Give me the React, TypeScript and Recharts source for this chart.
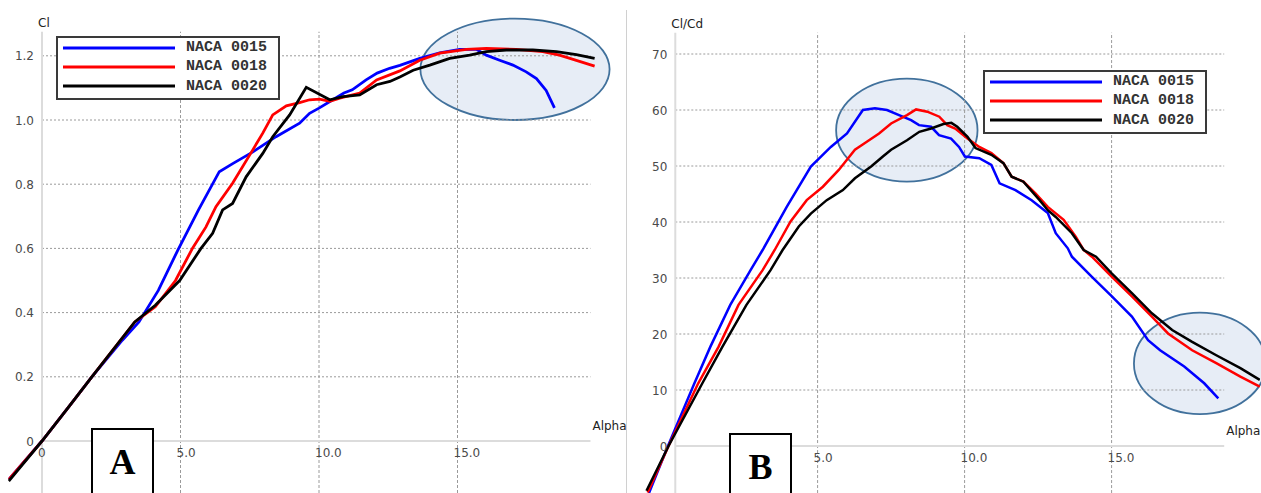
import React from 'react';
import {
  LineChart,
  Line,
  XAxis,
  YAxis,
  ReferenceLine,
  ReferenceDot,
  ReferenceArea,
  Legend,
} from 'recharts';

// ---- panel A : Cl vs Alpha ----
const A_ALPHA_0015 = [-1.2, 0, 1, 1.8, 2.9, 3.5, 4.2, 4.9, 5.65, 6.4, 6.9, 7.6, 8.45, 9.3, 9.66, 10.0, 10.5, 10.9, 11.2, 11.7, 12.1, 12.55, 12.92, 13.64, 14.36, 15.08, 15.68, 16.04, 16.52, 17.0, 17.48, 17.85, 18.2, 18.5];
const A_CL_0015 = [-0.12, 0, 0.11, 0.2, 0.314, 0.371, 0.469, 0.594, 0.72, 0.839, 0.865, 0.9, 0.948, 0.99, 1.021, 1.037, 1.063, 1.084, 1.094, 1.125, 1.146, 1.161, 1.17, 1.192, 1.209, 1.22, 1.22, 1.202, 1.186, 1.171, 1.15, 1.129, 1.092, 1.038];

const A_ALPHA_0018 = [-1.2, 0, 1, 1.8, 3.35, 4.09, 4.82, 5.43, 5.92, 6.28, 6.88, 7.61, 7.97, 8.33, 8.82, 9.3, 9.66, 10.02, 10.39, 10.75, 11.47, 12.08, 12.92, 13.64, 14.36, 15.32, 16.04, 17.12, 18.08, 18.68, 19.29, 19.95];
const A_CL_0018 = [-0.12, 0, 0.11, 0.2, 0.371, 0.418, 0.5, 0.6, 0.667, 0.73, 0.803, 0.907, 0.959, 1.016, 1.044, 1.054, 1.063, 1.065, 1.058, 1.068, 1.084, 1.125, 1.153, 1.186, 1.208, 1.22, 1.223, 1.22, 1.213, 1.202, 1.186, 1.168];

const A_ALPHA_0020 = [-1.2, 0, 1, 1.8, 3.35, 4.09, 4.97, 5.74, 6.16, 6.52, 6.88, 7.37, 7.97, 8.33, 8.94, 9.54, 10.39, 10.87, 11.47, 12.08, 12.56, 12.92, 13.4, 14.0, 14.72, 15.44, 16.04, 16.76, 17.72, 18.57, 19.29, 19.95];
const A_CL_0020 = [-0.125, 0, 0.11, 0.2, 0.371, 0.423, 0.5, 0.6, 0.647, 0.72, 0.74, 0.823, 0.896, 0.948, 1.016, 1.102, 1.063, 1.073, 1.078, 1.11, 1.12, 1.134, 1.155, 1.171, 1.192, 1.202, 1.213, 1.218, 1.218, 1.213, 1.204, 1.192];

const A_X_TICKS = [0, 5, 10, 15];
const A_X_LABELS = ['0', '5.0', '10.0', '15.0'];
const A_Y_TICKS = [0, 0.2, 0.4, 0.6, 0.8, 1.0, 1.2];
const A_Y_LABELS = ['0', '0.2', '0.4', '0.6', '0.8', '1.0', '1.2'];

// ---- panel B : Cl/Cd vs Alpha ----
const B_ALPHA_0015 = [-0.75, -0.09, 0.81, 1.35, 2.03, 2.72, 3.13, 3.95, 4.77, 5.45, 6.0, 6.54, 6.95, 7.36, 7.77, 8.18, 8.45, 8.86, 9.13, 9.54, 9.81, 10.01, 10.5, 10.91, 11.19, 11.73, 12.28, 12.83, 13.1, 13.51, 13.65, 14.33, 15.01, 15.69, 16.24, 16.65, 17.47, 18.15, 18.63];
const B_CLCD_0015 = [-8.6, 0, 11.2, 17.7, 25.2, 31.4, 35.0, 42.7, 49.9, 53.4, 55.8, 60.0, 60.3, 60.0, 59.1, 58.2, 57.3, 57.0, 55.5, 54.9, 53.4, 51.7, 51.4, 50.2, 46.9, 45.7, 43.9, 41.6, 38.0, 35.3, 33.8, 30.2, 26.7, 23.1, 18.9, 17.1, 14.2, 11.2, 8.5];

const B_ALPHA_0018 = [-0.78, -0.07, 0.94, 1.63, 2.31, 3.13, 3.54, 4.08, 4.63, 5.18, 5.72, 6.27, 6.61, 7.09, 7.5, 8.04, 8.35, 8.73, 9.14, 9.41, 9.68, 10.1, 10.5, 10.91, 11.32, 11.6, 12.0, 12.41, 12.83, 13.37, 13.78, 14.05, 14.33, 15.01, 15.69, 16.37, 16.92, 17.74, 18.56, 19.38, 20.04];
const B_CLCD_0018 = [-8.3, 0, 11.2, 17.7, 25.2, 31.4, 35.0, 40.1, 43.9, 46.3, 49.3, 52.9, 54.1, 55.8, 57.6, 59.1, 60.1, 59.7, 58.8, 57.3, 56.7, 54.9, 53.4, 52.3, 50.5, 48.1, 47.2, 45.1, 42.7, 40.4, 37.4, 35.0, 33.8, 30.2, 26.7, 23.1, 20.1, 17.1, 14.8, 12.4, 10.6];

const B_ALPHA_0020 = [-0.82, -0.07, 1.08, 1.76, 2.58, 3.4, 3.81, 4.36, 4.77, 5.31, 5.86, 6.27, 6.82, 7.22, 7.5, 8.04, 8.46, 8.86, 9.28, 9.55, 9.75, 10.1, 10.37, 10.91, 11.32, 11.6, 12.0, 12.55, 12.83, 13.1, 13.65, 14.05, 14.47, 15.01, 15.69, 16.37, 17.06, 17.74, 18.56, 19.38, 20.04];
const B_CLCD_0020 = [-8.0, 0, 11.2, 17.7, 25.2, 31.4, 35.0, 39.2, 41.5, 43.9, 45.7, 47.8, 49.9, 51.7, 52.9, 54.6, 56.1, 56.7, 57.5, 57.7, 57.0, 55.2, 53.2, 52.0, 50.5, 48.1, 47.2, 43.9, 42.1, 40.9, 38.0, 35.0, 33.8, 30.8, 27.3, 23.7, 20.7, 18.6, 16.2, 13.9, 11.8];

const B_X_TICKS = [5, 10, 15];
const B_X_LABELS = ['5.0', '10.0', '15.0'];
const B_Y_TICKS = [0, 10, 20, 30, 40, 50, 60, 70];
const B_Y_LABELS = ['0', '10', '20', '30', '40', '50', '60', '70'];

const SERIES_NAMES = ['NACA 0015', 'NACA 0018', 'NACA 0020'];
const COLORS = ['#0000ff', '#ff0000', '#000000'];

const zip = (a: number[], v: number[]) => a.map((x, i) => ({ a: x, v: v[i] }));

const GRID = '#9a9a9a';
const AXIS = '#dcdcdc';
const TICK_FONT = '"DejaVu Sans", sans-serif';

interface Ellipse { x1: number; x2: number; y1: number; y2: number }

interface PanelCfg {
  left: number;
  width: number;
  height: number;
  x0px: number;   // page x of alpha = 0
  pxX: number;    // px per degree
  y0px: number;   // page y of value = 0
  pxY: number;    // px per unit
  xDomain: [number, number];
  yDomain: [number, number];
  axisAt: number;
  gridEnd: number;
  xTicks: number[];
  xLabels: string[];
  yTicks: number[];
  yLabels: string[];
  yTitle: string;
  series: { a: number; v: number }[][];
  ellipses: Ellipse[];
  legendPos: { left: number; top: number };
  strokeWidth: number;
}

const EllipseShape = (p: any) => (
  <ellipse
    cx={p.x + p.width / 2}
    cy={p.y + p.height / 2}
    rx={Math.abs(p.width / 2)}
    ry={Math.abs(p.height / 2)}
    fill="#c5d5ea"
    fillOpacity={0.42}
    stroke="#41719c"
    strokeWidth={1.8}
  />
);

const renderLegend = (props: any) => (
  <div style={{ border: '2px solid #3a3a3a', background: '#fff', padding: '0 11px 2px 5px' }}>
    {(props.payload || []).map((e: any) => (
      <div key={e.value} style={{ display: 'flex', alignItems: 'center', height: 19.3 }}>
        <svg width={112} height={4} style={{ display: 'block' }}>
          <line x1={0} y1={2} x2={112} y2={2} stroke={e.color} strokeWidth={3} />
        </svg>
        <span
          style={{
            marginLeft: 11,
            fontFamily: '"Liberation Mono", "DejaVu Sans Mono", monospace',
            fontWeight: 'bold',
            fontSize: 15,
            color: '#333',
            lineHeight: '19px',
          }}
        >
          {e.value}
        </span>
      </div>
    ))}
  </div>
);

function Panel({ cfg }: { cfg: PanelCfg }) {
  const mLeft = cfg.x0px + cfg.xDomain[0] * cfg.pxX - cfg.left;
  const plotW = (cfg.xDomain[1] - cfg.xDomain[0]) * cfg.pxX;
  const mTop = cfg.y0px - cfg.yDomain[1] * cfg.pxY;
  const plotH = (cfg.yDomain[1] - cfg.yDomain[0]) * cfg.pxY;
  const margin = {
    left: mLeft,
    right: cfg.width - mLeft - plotW,
    top: mTop,
    bottom: cfg.height - mTop - plotH,
  };

  return (
    <div style={{ position: 'absolute', left: cfg.left, top: 0 }}>
      <LineChart width={cfg.width} height={cfg.height} margin={margin}>
        <XAxis type="number" dataKey="a" domain={cfg.xDomain} allowDataOverflow hide />
        <YAxis type="number" dataKey="v" domain={cfg.yDomain} allowDataOverflow hide />

        {/* vertical dotted grid */}
        {cfg.xTicks.filter((t) => t !== 0).map((t) => (
          <ReferenceLine key={`vx${t}`} x={t} stroke={GRID} strokeDasharray="3 2" strokeWidth={1} ifOverflow="visible" />
        ))}
        {/* horizontal dotted grid, from the axis to the grid end */}
        {cfg.yTicks.filter((t) => t !== 0).map((t) => (
          <ReferenceLine
            key={`hy${t}`}
            segment={[{ x: cfg.axisAt, y: t }, { x: cfg.gridEnd, y: t }]}
            stroke={GRID}
            strokeDasharray="2 2"
            strokeWidth={1}
            ifOverflow="visible"
          />
        ))}
        {/* axes */}
        <ReferenceLine x={cfg.axisAt} stroke={AXIS} strokeWidth={2} ifOverflow="visible" />
        <ReferenceLine
          segment={[{ x: cfg.axisAt, y: 0 }, { x: cfg.gridEnd, y: 0 }]}
          stroke={AXIS}
          strokeWidth={2}
          ifOverflow="visible"
        />

        {cfg.ellipses.map((e, i) => (
          <ReferenceArea
            key={`el${i}`}
            x1={e.x1}
            x2={e.x2}
            y1={e.y1}
            y2={e.y2}
            ifOverflow="visible"
            shape={EllipseShape}
          />
        ))}

        {cfg.series.map((d, i) => (
          <Line
            key={SERIES_NAMES[i]}
            data={d}
            dataKey="v"
            name={SERIES_NAMES[i]}
            type="linear"
            stroke={COLORS[i]}
            strokeWidth={cfg.strokeWidth}
            dot={false}
            activeDot={false}
            isAnimationActive={false}
          />
        ))}

        {/* tick labels */}
        {cfg.xTicks.map((t, i) => (
          <ReferenceDot
            key={`xl${t}`}
            x={t}
            y={0}
            r={0}
            ifOverflow="visible"
            shape={(p: any) => (
              <text x={p.cx - 4} y={p.cy + 16} fontFamily={TICK_FONT} fontSize={12} fill="#4a4a4a">
                {cfg.xLabels[i]}
              </text>
            )}
          />
        ))}
        {cfg.yTicks.map((t, i) => (
          <ReferenceDot
            key={`yl${t}`}
            x={cfg.axisAt}
            y={t}
            r={0}
            ifOverflow="visible"
            shape={(p: any) => (
              <text x={p.cx - 8} y={p.cy + 4.5} textAnchor="end" fontFamily={TICK_FONT} fontSize={12} fill="#4a4a4a">
                {cfg.yLabels[i]}
              </text>
            )}
          />
        ))}
        <ReferenceDot
          x={cfg.axisAt}
          y={cfg.yDomain[1]}
          r={0}
          ifOverflow="visible"
          shape={(p: any) => (
            <text x={p.cx - 4} y={p.cy - 5} fontFamily={TICK_FONT} fontSize={12} fill="#222">
              {cfg.yTitle}
            </text>
          )}
        />
        <ReferenceDot
          x={cfg.gridEnd}
          y={0}
          r={0}
          ifOverflow="visible"
          shape={(p: any) => (
            <text x={p.cx + 2} y={p.cy - 11} fontFamily={TICK_FONT} fontSize={12} fill="#222">
              Alpha
            </text>
          )}
        />

        <Legend
          layout="vertical"
          align="center"
          verticalAlign="middle"
          content={renderLegend}
          wrapperStyle={{ left: cfg.legendPos.left, top: cfg.legendPos.top, width: 'auto', height: 'auto' }}
        />
      </LineChart>
    </div>
  );
}

const PANEL_A: PanelCfg = {
  left: 0,
  width: 626,
  height: 493,
  x0px: 42,
  pxX: 27.7,
  y0px: 441,
  pxY: 321,
  xDomain: [-1.22, 20.0],
  yDomain: [-0.162, 1.275],
  axisAt: 0,
  gridEnd: 19.8,
  xTicks: A_X_TICKS,
  xLabels: A_X_LABELS,
  yTicks: A_Y_TICKS,
  yLabels: A_Y_LABELS,
  yTitle: 'Cl',
  series: [zip(A_ALPHA_0015, A_CL_0015), zip(A_ALPHA_0018, A_CL_0018), zip(A_ALPHA_0020, A_CL_0020)],
  ellipses: [{ x1: 13.66, x2: 20.49, y1: 1.0, y2: 1.316 }],
  legendPos: { left: 56, top: 36 },
  strokeWidth: 2.8,
};

const PANEL_B: PanelCfg = {
  left: 630,
  width: 631,
  height: 493,
  x0px: 670.6,
  pxX: 29.4,
  y0px: 446,
  pxY: 5.6,
  xDomain: [-1.3, 20.05],
  yDomain: [-8.4, 73.8],
  axisAt: 0.16,
  gridEnd: 18.83,
  xTicks: B_X_TICKS,
  xLabels: B_X_LABELS,
  yTicks: B_Y_TICKS,
  yLabels: B_Y_LABELS,
  yTitle: 'Cl/Cd',
  series: [zip(B_ALPHA_0015, B_CLCD_0015), zip(B_ALPHA_0018, B_CLCD_0018), zip(B_ALPHA_0020, B_CLCD_0020)],
  ellipses: [
    { x1: 5.63, x2: 10.44, y1: 47.2, y2: 65.6 },
    { x1: 15.76, x2: 20.25, y1: 5.7, y2: 23.8 },
  ],
  legendPos: { left: 353, top: 70 },
  strokeWidth: 2.5,
};

const boxStyle = (left: number, top: number): React.CSSProperties => ({
  position: 'absolute',
  left,
  top,
  width: 63,
  height: 80,
  boxSizing: 'border-box',
  border: '2px solid #000',
  background: '#fff',
  textAlign: 'center',
  fontFamily: '"Liberation Serif", "Times New Roman", serif',
  fontWeight: 'bold',
  fontSize: 36,
  lineHeight: '36px',
  paddingTop: 14,
  color: '#000',
});

export default function App() {
  return (
    <div
      style={{
        position: 'fixed',
        left: 0,
        top: 0,
        width: 1261,
        height: 493,
        overflow: 'hidden',
        background: '#fff',
      }}
    >
      <Panel cfg={PANEL_A} />
      <Panel cfg={PANEL_B} />
      <div style={{ position: 'absolute', left: 626, top: 10, width: 1, height: 483, background: '#d0d0d0' }} />
      <div style={boxStyle(91, 428)}>A</div>
      <div style={boxStyle(729, 433)}>B</div>
    </div>
  );
}
